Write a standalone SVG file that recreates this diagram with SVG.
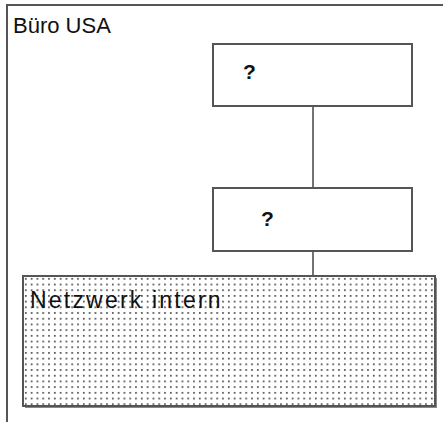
<svg xmlns="http://www.w3.org/2000/svg" width="443" height="422" viewBox="0 0 443 422">
<style>
.box{fill:#fff;stroke:#555;stroke-width:2}
.frame{fill:none;stroke:#555;stroke-width:2}
.lbl{font-family:"Liberation Sans",Arial,sans-serif;font-size:22px;fill:#111}
.net{font-size:23px;letter-spacing:2.2px}
.q{font-family:"Liberation Sans",Arial,sans-serif;font-size:21px;font-weight:bold;fill:#111}
.conn{stroke:#444;stroke-width:1.5;fill:none}
</style>
<defs>
<pattern id="dots" x="23" y="276" width="5.8" height="5.7" patternUnits="userSpaceOnUse">
<rect x="2" y="2" width="1.6" height="1.6" fill="#333"/>
</pattern>
</defs>
<g id="frame">
<rect class="frame" x="7" y="5" width="445" height="430"/>
<text class="lbl" x="13" y="33">Büro USA</text>
</g>
<g id="connectors">
<line class="conn" x1="313" y1="106" x2="313" y2="188"/>
<line class="conn" x1="313" y1="251" x2="313" y2="276"/>
</g>
<g id="node1">
<rect class="box" x="213" y="44" width="199" height="62"/>
<text class="q" x="243" y="79">?</text>
</g>
<g id="node2">
<rect class="box" x="213" y="188" width="199" height="63"/>
<text class="q" x="261" y="226">?</text>
</g>
<g id="netz">
<rect x="25" y="278" width="412" height="130" fill="#888"/>
<rect x="23" y="276" width="412" height="130" fill="#fff" stroke="#555" stroke-width="2"/>
<rect x="23" y="276" width="412" height="130" fill="url(#dots)"/>
<text class="lbl net" x="30" y="308">Netzwerk intern</text>
</g>
</svg>
